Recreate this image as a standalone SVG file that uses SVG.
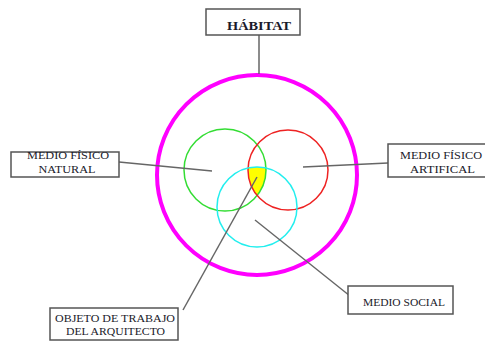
<svg xmlns="http://www.w3.org/2000/svg" width="485" height="342" viewBox="0 0 485 342">
<style>
.box{fill:#fff;stroke:#555;stroke-width:1.5}
.t{font-family:"Liberation Serif","Times New Roman",serif;font-size:10.5px;fill:#1a1a2a;text-anchor:middle}
.conn line{stroke:#666;stroke-width:1.5}
</style>
<defs>
<clipPath id="cr"><circle cx="288" cy="170" r="40"/></clipPath>
<clipPath id="cc"><circle cx="257" cy="207" r="40"/></clipPath>
</defs>
<rect width="485" height="342" fill="#fff"/>
<g id="habitat-circle"><circle cx="257" cy="175" r="100" fill="none" stroke="#ff00ff" stroke-width="4"/></g>
<g id="overlap"><g clip-path="url(#cr)"><g clip-path="url(#cc)"><circle cx="225" cy="170" r="41" fill="#ffff00"/></g></g></g>
<g id="natural-circle"><circle cx="225" cy="170" r="41" fill="none" stroke="#33dd33" stroke-width="1.5"/></g>
<g id="artificial-circle"><circle cx="288" cy="170" r="40" fill="none" stroke="#ee2222" stroke-width="1.5"/></g>
<g id="social-circle"><circle cx="257" cy="207" r="40" fill="none" stroke="#22eeee" stroke-width="1.5"/></g>
<g class="conn" id="connectors">
<line x1="259" y1="35" x2="259" y2="74"/>
<line x1="119" y1="162" x2="212" y2="171"/>
<line x1="303" y1="167" x2="388" y2="163"/>
<line x1="255" y1="220" x2="350" y2="296"/>
<line x1="257" y1="177" x2="183" y2="310"/>
</g>
<g id="habitat"><rect class="box" x="206" y="9" width="94" height="26"/><text class="t" x="259" y="30" textLength="64" lengthAdjust="spacingAndGlyphs" style="font-size:13px;font-weight:bold">HÁBITAT</text></g>
<g id="natural"><rect class="box" x="11" y="152" width="108" height="25"/><text class="t" x="68" y="159" textLength="82" lengthAdjust="spacingAndGlyphs">MEDIO FÍSICO</text><text class="t" x="67" y="173" textLength="57" lengthAdjust="spacingAndGlyphs">NATURAL</text></g>
<g id="artificial"><rect class="box" x="388" y="144" width="114" height="33"/><text class="t" x="441" y="159" textLength="82" lengthAdjust="spacingAndGlyphs">MEDIO FÍSICO</text><text class="t" x="442.5" y="173" textLength="65" lengthAdjust="spacingAndGlyphs">ARTIFICAL</text></g>
<g id="objeto"><rect class="box" x="50" y="308" width="128" height="32"/><text class="t" x="115" y="322" textLength="120" lengthAdjust="spacingAndGlyphs">OBJETO DE TRABAJO</text><text class="t" x="115.5" y="335" textLength="99" lengthAdjust="spacingAndGlyphs">DEL ARQUITECTO</text></g>
<g id="social"><rect class="box" x="348" y="286" width="105" height="28"/><text class="t" x="404" y="306" textLength="82" lengthAdjust="spacingAndGlyphs">MEDIO SOCIAL</text></g>
</svg>
